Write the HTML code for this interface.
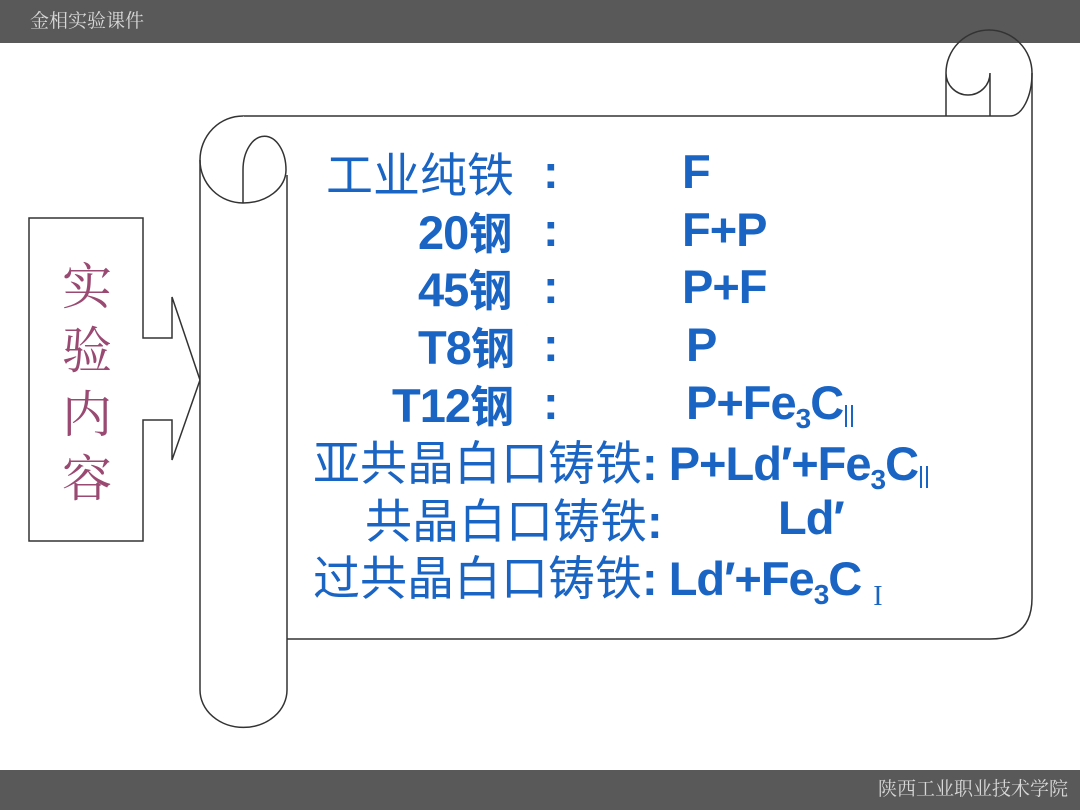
<!DOCTYPE html>
<html><head><meta charset="utf-8"><style>
body{margin:0;width:1080px;height:810px;background:#fff;position:relative;overflow:hidden;font-family:"Liberation Sans","Noto Sans CJK SC",sans-serif}
.bar{position:absolute;left:0;width:1080px;background:#595959;color:#d8d8d8;font-family:"Liberation Serif","Noto Serif CJK SC",serif;font-size:19px}
.t{position:absolute;color:#1a64c4;font-size:47px;line-height:50px;white-space:nowrap;font-weight:bold;font-family:"Liberation Sans","Noto Sans CJK SC",sans-serif;letter-spacing:-1px}
.c{font-family:"Noto Sans CJK SC",sans-serif;font-weight:normal;font-size:47px;letter-spacing:0}
.cb{font-family:"Noto Sans CJK SC",sans-serif;font-weight:bold;font-size:44px}
sub{font-size:28px;vertical-align:-9px}
.r{display:inline-block;width:8px;height:22px;border-left:2.5px solid #1a64c4;border-right:2.5px solid #1a64c4;box-sizing:border-box;vertical-align:-8px;margin-left:2px}
.v{position:absolute;left:60px;width:54px;text-align:center;color:#9a4a72;font-size:50px;line-height:62px;font-family:"Noto Serif CJK SC",serif}
</style></head><body>
<div class="bar" style="top:0;height:43px;line-height:43px;padding-left:30px;box-sizing:border-box">金相实验课件</div>
<div class="bar" style="top:770px;height:40px;line-height:40px;text-align:right;padding-right:12px;box-sizing:border-box">陕西工业职业技术学院</div>
<svg width="1080" height="810" style="position:absolute;left:0;top:0" fill="none" stroke="#333" stroke-width="1.5">
<path d="M29,218 H143 V338 H172 V297 L200,380 L172,460 V420 H143 V541 H29 Z" fill="#fff"/>
<path d="M243,116 H1010 M1032,73 V598 Q1032,639 990,639 H287" />
<path d="M946,116 V73 A43,43 0 0 1 1032,73 A22,43 0 0 1 1010,116 M990,73 V116 M946,73 A22,22 0 0 0 990,73" />
<path d="M287,175 V690 A43,37 0 0 1 200,690 V160 A43,44 0 0 1 243,116" fill="#fff"/>
<path d="M200,160 A43,43 0 0 0 243,203 V170 A21,33 0 0 1 286,170 A43,33 0 0 1 243,203" />
</svg>
<div class="v" style="top:252px">实</div>
<div class="v" style="top:316px">验</div>
<div class="v" style="top:380px">内</div>
<div class="v" style="top:444px">容</div>

<div class="t" style="left:326px;top:147px"><span class="c">工业纯铁</span></div>
<div class="t" style="left:543px;top:147px">:</div>
<div class="t" style="left:682px;top:147px">F</div>

<div class="t" style="left:418px;top:205px">20<span class="cb">钢</span></div>
<div class="t" style="left:543px;top:205px">:</div>
<div class="t" style="left:682px;top:205px">F+P</div>

<div class="t" style="left:418px;top:262px">45<span class="cb">钢</span></div>
<div class="t" style="left:543px;top:262px">:</div>
<div class="t" style="left:682px;top:262px">P+F</div>

<div class="t" style="left:418px;top:320px">T8<span class="cb">钢</span></div>
<div class="t" style="left:543px;top:320px">:</div>
<div class="t" style="left:686px;top:320px">P</div>

<div class="t" style="left:392px;top:378px">T12<span class="cb">钢</span></div>
<div class="t" style="left:543px;top:378px">:</div>
<div class="t" style="left:686px;top:378px">P+Fe<sub>3</sub>C<span class="r"></span></div>

<div class="t" style="left:313px;top:435px"><span class="c">亚共晶白口铸铁</span>: P+Ld′+Fe<sub>3</sub>C<span class="r"></span></div>
<div class="t" style="left:365px;top:493px"><span class="c">共晶白口铸铁</span>:</div>
<div class="t" style="left:778px;top:493px">Ld′</div>
<div class="t" style="left:313px;top:550px"><span class="c">过共晶白口铸铁</span>: Ld′+Fe<sub>3</sub>C <span style="font-family:'Liberation Serif',serif;font-weight:normal;font-size:28px;vertical-align:-10px">I</span></div>
</body></html>
